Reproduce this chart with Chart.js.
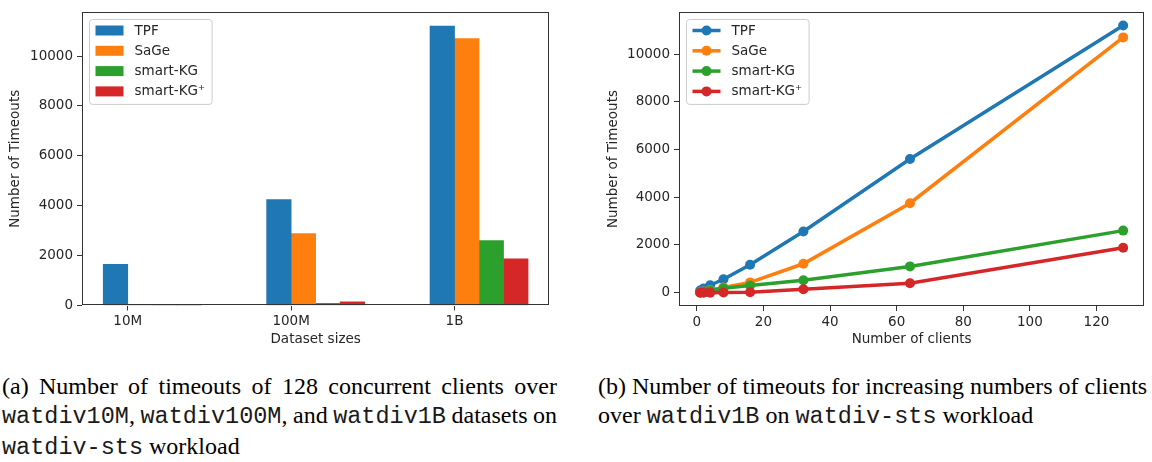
<!DOCTYPE html>
<html><head><meta charset="utf-8">
<script src="https://cdn.jsdelivr.net/npm/chart.js@4.4.1/dist/chart.umd.min.js"></script>
<style>
html,body{margin:0;padding:0;background:#fff;}
body{width:1152px;height:462px;position:relative;overflow:hidden;}
#c1{position:absolute;left:0;top:0;}
#c2{position:absolute;left:598px;top:0;}
.cap{position:absolute;top:372px;font-family:"Liberation Serif","Times New Roman",serif;font-size:24px;line-height:29.3px;color:#000;}
.cap .l{white-space:nowrap;}
.cap .j{text-align:justify;text-align-last:justify;}
.tt{font-family:"Liberation Mono","Courier New",monospace;font-size:23.5px;color:#1a1a1a;}
</style></head><body>
<canvas id="c1" width="560" height="352"></canvas>
<canvas id="c2" width="554" height="352"></canvas>

<div class="cap" style="left:2px;width:555px;">
  <div class="l j">(a) Number of timeouts of 128 concurrent clients over</div>
  <div class="l j" style="word-spacing:-2px"><span class="tt">watdiv10M</span>, <span class="tt">watdiv100M</span>, and <span class="tt">watdiv1B</span> datasets on</div>
  <div class="l"><span class="tt">watdiv-sts</span> workload</div>
</div>
<div class="cap" style="left:598px;width:600px;">
  <div class="l">(b) Number of timeouts for increasing numbers of clients</div>
  <div class="l">over <span class="tt">watdiv1B</span> on <span class="tt">watdiv-sts</span> workload</div>
</div>

<script>
// ---------- data ----------
const categories = ['10M', '100M', '1B'];
const seriesNames = ['TPF', 'SaGe', 'smart-KG', 'smart-KG\u207A'];
const seriesColors = ['#1f77b4', '#ff7f0e', '#2ca02c', '#d62728'];

const barTPF = [1650, 4250, 11200];
const barSaGe = [0, 2880, 10700];
const barSmartKG = [15, 90, 2600];
const barSmartKGPlus = [0, 150, 1870];

const clients = [1, 2, 4, 8, 16, 32, 64, 128];
const lineTPF = [90, 170, 310, 560, 1170, 2560, 5600, 11200];
const lineSaGe = [20, 50, 110, 220, 430, 1210, 3750, 10700];
const lineSmartKG = [10, 40, 90, 180, 300, 520, 1100, 2600];
const lineSmartKGPlus = [0, 0, 0, 5, 20, 140, 390, 1880];

const yTicks = [0, 2000, 4000, 6000, 8000, 10000];
const clientTicks = [0, 20, 40, 60, 80, 100, 120];

// ---------- common styling ----------
const FONT = {family: '"DejaVu Sans", sans-serif', size: 13.5};
const TXT = '#262626';
const AXC = '#333333';
Chart.defaults.font.family = FONT.family;
Chart.defaults.font.size = FONT.size;
Chart.defaults.color = TXT;

function roundRectPath(ctx, x, y, w, h, r) {
  ctx.beginPath();
  ctx.moveTo(x + r, y);
  ctx.lineTo(x + w - r, y); ctx.arcTo(x + w, y, x + w, y + r, r);
  ctx.lineTo(x + w, y + h - r); ctx.arcTo(x + w, y + h, x + w - r, y + h, r);
  ctx.lineTo(x + r, y + h); ctx.arcTo(x, y + h, x, y + h - r, r);
  ctx.lineTo(x, y + r); ctx.arcTo(x, y, x + r, y, r);
  ctx.closePath();
}

const framePlugin = {
  id: 'frameAndLegend',
  afterDatasetsDraw(chart, args, opts) {
    const ctx = chart.ctx, a = chart.chartArea;
    ctx.save();
    ctx.strokeStyle = AXC; ctx.lineWidth = 1;
    ctx.strokeRect(Math.round(a.left) + 0.5, Math.round(a.top) + 0.5,
                   Math.round(a.right - a.left) - 1, Math.round(a.bottom - a.top) - 1);
    ctx.restore();
  },
  afterDraw(chart, args, opts) {
    const ctx = chart.ctx, a = chart.chartArea;
    const ds = chart.data.datasets;
    ctx.save();
    ctx.font = FONT.size + 'px ' + FONT.family;
    const pad = 6, handleLen = 28, gap = 11, rowH = 20.3, firstRow = 11;
    const textW = Math.max(...ds.map(d => ctx.measureText(d.label).width));
    const bx = Math.round(a.left + 7) + 0.5, by = Math.round(a.top + 7) + 0.5;
    const bw = pad + handleLen + gap + textW + 7;
    const bh = firstRow + rowH * (ds.length - 1) + 13;
    roundRectPath(ctx, bx, by, bw, bh, 3);
    ctx.fillStyle = 'rgba(255,255,255,0.85)'; ctx.fill();
    ctx.strokeStyle = '#cccccc'; ctx.lineWidth = 1; ctx.stroke();
    ds.forEach((d, i) => {
      const cy = by + firstRow + i * rowH;
      const hx = bx + pad;
      if (opts.kind === 'bar') {
        ctx.fillStyle = d.backgroundColor;
        ctx.fillRect(hx, cy - 5, handleLen, 10);
      } else {
        ctx.strokeStyle = d.borderColor; ctx.lineWidth = d.borderWidth;
        ctx.beginPath(); ctx.moveTo(hx, cy); ctx.lineTo(hx + handleLen, cy); ctx.stroke();
        ctx.fillStyle = d.borderColor;
        ctx.beginPath(); ctx.arc(hx + handleLen / 2, cy, d.pointRadius, 0, Math.PI * 2); ctx.fill();
      }
      ctx.fillStyle = TXT; ctx.textBaseline = 'middle'; ctx.textAlign = 'left';
      ctx.fillText(d.label, hx + handleLen + gap, cy + 0.5);
    });
    ctx.restore();
  }
};

function axisCommon() {
  return {
    offset: false,
    grid: {display: true, drawOnChartArea: false, drawTicks: true, tickLength: 5, tickColor: AXC, tickWidth: 1, offset: false},
    border: {display: false},
  };
}

// ---------- chart (a): grouped bars ----------
const barSeries = [barTPF, barSaGe, barSmartKG, barSmartKGPlus];
const barWidth = 0.15;
const barDatasets = barSeries.map((vals, k) => ({
  label: seriesNames[k],
  data: vals.map((v, i) => ({x: i + (k - 0.5) * barWidth, y: v})),
  backgroundColor: seriesColors[k],
  borderWidth: 0,
  grouped: false,
  barPercentage: 1,
  categoryPercentage: 1
}));
const barXMinData = -barWidth, barXMaxData = (categories.length - 1) + 3 * barWidth;
const barXPad = 0.05 * (barXMaxData - barXMinData);
const barYMax = Math.max(...barSeries.flat()) * 1.05;

new Chart(document.getElementById('c1'), {
  type: 'bar',
  data: {datasets: barDatasets},
  options: {
    responsive: false, animation: false,
    layout: {padding: {left: 0, right: 10.7, top: 3, bottom: 0}},
    plugins: {legend: {display: false}, tooltip: {enabled: false}, frameAndLegend: {kind: 'bar'}},
    scales: {
      x: Object.assign(axisCommon(), {
        type: 'linear', min: barXMinData - barXPad, max: barXMaxData + barXPad,
        afterBuildTicks: s => { s.ticks = categories.map((c, i) => ({value: i})); },
        afterFit: s => { s.height = 46.5; },
        ticks: {callback: v => categories[v] ?? '', padding: 3, maxRotation: 0, autoSkip: false, color: TXT},
        title: {display: true, text: 'Dataset sizes', color: TXT, padding: {top: 0, bottom: 4}}
      }),
      y: Object.assign(axisCommon(), {
        type: 'linear', min: 0, max: barYMax,
        afterBuildTicks: s => { s.ticks = yTicks.map(v => ({value: v})); },
        afterFit: s => { s.width = 82; },
        ticks: {callback: v => String(v), padding: 4, color: TXT},
        title: {display: true, text: 'Number of Timeouts', color: TXT, padding: {top: 7, bottom: 0}}
      })
    }
  },
  plugins: [framePlugin]
});

// ---------- chart (b): lines ----------
const lineSeries = [lineTPF, lineSaGe, lineSmartKG, lineSmartKGPlus];
const lineDatasets = lineSeries.map((vals, k) => ({
  label: seriesNames[k],
  data: vals.map((v, i) => ({x: clients[i], y: v})),
  borderColor: seriesColors[k],
  backgroundColor: seriesColors[k],
  pointBackgroundColor: seriesColors[k],
  pointBorderWidth: 0,
  pointRadius: 5,
  borderWidth: 3.5,
  tension: 0,
  order: seriesNames.length - 1 - k
}));
const cMin = Math.min(...clients), cMax = Math.max(...clients);
const cPad = 0.05 * (cMax - cMin);
const lMin = Math.min(...lineSeries.flat()), lMax = Math.max(...lineSeries.flat());
const lPad = 0.05 * (lMax - lMin);

new Chart(document.getElementById('c2'), {
  type: 'line',
  data: {datasets: lineDatasets},
  options: {
    responsive: false, animation: false,
    layout: {padding: {left: 0, right: 7.7, top: 3, bottom: 0}},
    plugins: {legend: {display: false}, tooltip: {enabled: false}, frameAndLegend: {kind: 'line'}},
    scales: {
      x: Object.assign(axisCommon(), {
        type: 'linear', min: cMin - cPad, max: cMax + cPad,
        afterBuildTicks: s => { s.ticks = clientTicks.map(v => ({value: v})); },
        afterFit: s => { s.height = 46; },
        ticks: {callback: v => String(v), padding: 3, maxRotation: 0, autoSkip: false, color: TXT},
        title: {display: true, text: 'Number of clients', color: TXT, padding: {top: 0, bottom: 4}}
      }),
      y: Object.assign(axisCommon(), {
        type: 'linear', min: lMin - lPad, max: lMax + lPad,
        afterBuildTicks: s => { s.ticks = yTicks.map(v => ({value: v})); },
        afterFit: s => { s.width = 81; },
        ticks: {callback: v => String(v), padding: 4, color: TXT},
        title: {display: true, text: 'Number of Timeouts', color: TXT, padding: {top: 7, bottom: 0}}
      })
    }
  },
  plugins: [framePlugin]
});
</script>
</body></html>
